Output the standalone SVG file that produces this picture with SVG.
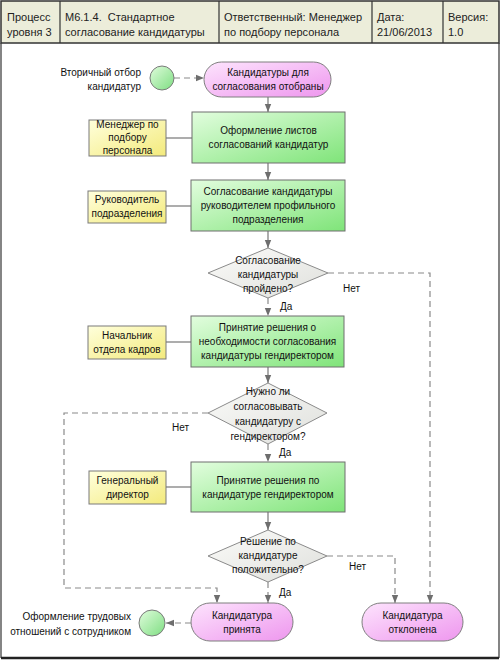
<svg xmlns="http://www.w3.org/2000/svg" width="501" height="661" viewBox="0 0 501 661">
<defs>
<linearGradient id="gGreen" x1="0" y1="0" x2="1" y2="1"><stop offset="0" stop-color="#e2fdde"/><stop offset="1" stop-color="#7fe479"/></linearGradient>
<linearGradient id="gYellow" x1="0" y1="0" x2="1" y2="1"><stop offset="0" stop-color="#ffffdc"/><stop offset="1" stop-color="#f3ea7c"/></linearGradient>
<linearGradient id="gPink" x1="0" y1="0" x2="1" y2="1"><stop offset="0" stop-color="#fde4fd"/><stop offset="1" stop-color="#ee96ee"/></linearGradient>
<linearGradient id="gGray" x1="0" y1="0" x2="1" y2="1"><stop offset="0" stop-color="#fbfbf9"/><stop offset="1" stop-color="#dfe0dc"/></linearGradient>
<linearGradient id="gCircle" x1="0" y1="0" x2="1" y2="1"><stop offset="0" stop-color="#e0fcdc"/><stop offset="1" stop-color="#7ede82"/></linearGradient>
<marker id="arr" viewBox="0 0 8 8" refX="8" refY="4" markerWidth="8" markerHeight="8" markerUnits="userSpaceOnUse" orient="auto">
<path d="M0,0.8 L8,4 L0,7.2 Z" fill="#6e6e6e"/>
</marker>
</defs>
<style>
text{font-family:"Liberation Sans",Arial,sans-serif;font-size:10px;fill:#111}
.h{font-size:11px;fill:#222}
.c{text-anchor:middle}
.r{text-anchor:end}
.proc{fill:url(#gGreen);stroke:#6f6f6f;stroke-width:1}
.role{fill:url(#gYellow);stroke:#7a7a7a;stroke-width:1}
.ev{fill:url(#gPink);stroke:#7f7f7f;stroke-width:1}
.dec{fill:url(#gGray);stroke:#8a8a8a;stroke-width:1}
.circ{fill:url(#gCircle);stroke:#7a7a7a;stroke-width:1}
.ln{fill:none;stroke:#777;stroke-width:1.2}
.ds{fill:none;stroke:#8a8a8a;stroke-width:1.2;stroke-dasharray:6,4}
</style>
<rect x="0" y="0" width="501" height="661" fill="#ffffff"/>
<g id="header">
<rect x="1" y="1" width="498" height="42" fill="#ecedda" stroke="#333" stroke-width="1.5"/>
<line x1="60" y1="1" x2="60" y2="43" stroke="#333" stroke-width="1.2"/>
<line x1="219" y1="1" x2="219" y2="43" stroke="#333" stroke-width="1.2"/>
<line x1="372" y1="1" x2="372" y2="43" stroke="#333" stroke-width="1.2"/>
<line x1="443" y1="1" x2="443" y2="43" stroke="#333" stroke-width="1.2"/>
<text class="h" x="7" y="21">Процесс</text>
<text class="h" x="7" y="36">уровня 3</text>
<text class="h" x="65" y="21">М6.1.4.&#160; Стандартное</text>
<text class="h" x="65" y="36">согласование кандидатуры</text>
<text class="h" x="224" y="21">Ответственный: Менеджер</text>
<text class="h" x="224" y="36">по подбору персонала</text>
<text class="h" x="377" y="21">Дата:</text>
<text class="h" x="377" y="36">21/06/2013</text>
<text class="h" x="448" y="21">Версия:</text>
<text class="h" x="448" y="36">1.0</text>
</g>
<g id="frame">
<line x1="1" y1="43" x2="1" y2="658" stroke="#333" stroke-width="1.2"/>
<line x1="499" y1="43" x2="499" y2="658" stroke="#333" stroke-width="1.2"/>
<line x1="1" y1="658" x2="499" y2="658" stroke="#222" stroke-width="2.5"/>
</g>
<g id="connectors">
<line class="ds" x1="174" y1="78" x2="204" y2="78" marker-end="url(#arr)"/>
<line class="ln" x1="268" y1="97" x2="268" y2="112" marker-end="url(#arr)"/>
<line class="ln" x1="268" y1="163" x2="268" y2="180" marker-end="url(#arr)"/>
<line class="ln" x1="268" y1="231" x2="268" y2="248" marker-end="url(#arr)"/>
<line class="ds" x1="268" y1="298" x2="268" y2="316" marker-end="url(#arr)"/>
<line class="ln" x1="268" y1="367" x2="268" y2="383" marker-end="url(#arr)"/>
<line class="ds" x1="268" y1="444" x2="268" y2="462" marker-end="url(#arr)"/>
<line class="ln" x1="268" y1="512" x2="268" y2="530" marker-end="url(#arr)"/>
<line class="ds" x1="268" y1="582" x2="268" y2="603" marker-end="url(#arr)"/>
<polyline class="ds" points="328,273 430,273 430,603" marker-end="url(#arr)"/>
<polyline class="ds" points="208,413 64,413 64,588 217,588 217,603" marker-end="url(#arr)"/>
<polyline class="ds" points="327,556 395,556 395,603" marker-end="url(#arr)"/>
<line class="ds" x1="191" y1="623" x2="166" y2="623" marker-end="url(#arr)"/>
<line class="ln" x1="166" y1="138" x2="192" y2="138"/>
<line class="ln" x1="166" y1="206" x2="191" y2="206"/>
<line class="ln" x1="166" y1="342" x2="191" y2="342"/>
<line class="ln" x1="166" y1="487" x2="191" y2="487"/>
<text x="280" y="310">Да</text>
<text x="343" y="292">Нет</text>
<text x="172" y="431">Нет</text>
<text x="279" y="456">Да</text>
<text x="349" y="570">Нет</text>
<text x="279" y="596">Да</text>
</g>
<g id="start">
<circle class="circ" cx="162" cy="78" r="12"/>
<text class="r" x="141" y="76">Вторичный отбор</text>
<text class="r" x="141" y="90">кандидатур</text>
</g>
<g id="ev-selected">
<rect class="ev" x="204" y="62" width="127" height="35" rx="17.5"/>
<text class="c" x="268" y="76">Кандидатуры для</text>
<text class="c" x="268" y="90">согласования отобраны</text>
</g>
<g id="role-manager">
<rect class="role" x="89" y="120" width="77" height="36"/>
<text class="c" x="127.5" y="128">Менеджер по</text>
<text class="c" x="127.5" y="141">подбору</text>
<text class="c" x="127.5" y="154">персонала</text>
</g>
<g id="proc-forms">
<rect class="proc" x="192" y="112" width="153" height="51"/>
<text class="c" x="268.5" y="134">Оформление листов</text>
<text class="c" x="268.5" y="148">согласований кандидатур</text>
</g>
<g id="role-head">
<rect class="role" x="88" y="191" width="78" height="32"/>
<text class="c" x="127" y="203">Руководитель</text>
<text class="c" x="127" y="217">подразделения</text>
</g>
<g id="proc-approve">
<rect class="proc" x="191" y="180" width="154" height="51"/>
<text class="c" x="268" y="195">Согласование кандидатуры</text>
<text class="c" x="268" y="209">руководителем профильного</text>
<text class="c" x="268" y="223">подразделения</text>
</g>
<g id="dec-passed">
<polygon class="dec" points="268,248 328,273 268,298 208,273"/>
<text class="c" x="268" y="264">Согласование</text>
<text class="c" x="268" y="278">кандидатуры</text>
<text class="c" x="268" y="292">пройдено?</text>
</g>
<g id="role-hr">
<rect class="role" x="88" y="326" width="78" height="33"/>
<text class="c" x="127" y="339">Начальник</text>
<text class="c" x="127" y="353">отдела кадров</text>
</g>
<g id="proc-decide">
<rect class="proc" x="191" y="316" width="153" height="51"/>
<text class="c" x="267.5" y="331">Принятие решения о</text>
<text class="c" x="267.5" y="345">необходимости согласования</text>
<text class="c" x="267.5" y="359">кандидатуры гендиректором</text>
</g>
<g id="dec-need">
<polygon class="dec" points="268,383 327,413 268,444 208,413"/>
<text class="c" x="268" y="395">Нужно ли</text>
<text class="c" x="268" y="410">согласовывать</text>
<text class="c" x="268" y="425">кандидатуру с</text>
<text class="c" x="268" y="440">гендиректором?</text>
</g>
<g id="role-ceo">
<rect class="role" x="89" y="471" width="77" height="33"/>
<text class="c" x="127.5" y="484">Генеральный</text>
<text class="c" x="127.5" y="498">директор</text>
</g>
<g id="proc-ceo">
<rect class="proc" x="191" y="462" width="154" height="50"/>
<text class="c" x="268" y="484">Принятие решения по</text>
<text class="c" x="268" y="498">кандидатуре гендиректором</text>
</g>
<g id="dec-positive">
<polygon class="dec" points="268,530 327,556 268,582 208,556"/>
<text class="c" x="268" y="545">Решение по</text>
<text class="c" x="268" y="559">кандидатуре</text>
<text class="c" x="268" y="573">положительно?</text>
</g>
<g id="ev-accepted">
<rect class="ev" x="191" y="603" width="102" height="38" rx="19"/>
<text class="c" x="242" y="619">Кандидатура</text>
<text class="c" x="242" y="633">принята</text>
</g>
<g id="ev-rejected">
<rect class="ev" x="362" y="603" width="101" height="38" rx="19"/>
<text class="c" x="412.5" y="619">Кандидатура</text>
<text class="c" x="412.5" y="633">отклонена</text>
</g>
<g id="end">
<circle class="circ" cx="152" cy="623" r="13"/>
<text class="r" x="131" y="620">Оформление трудовых</text>
<text class="r" x="131" y="635">отношений с сотрудником</text>
</g>
</svg>
